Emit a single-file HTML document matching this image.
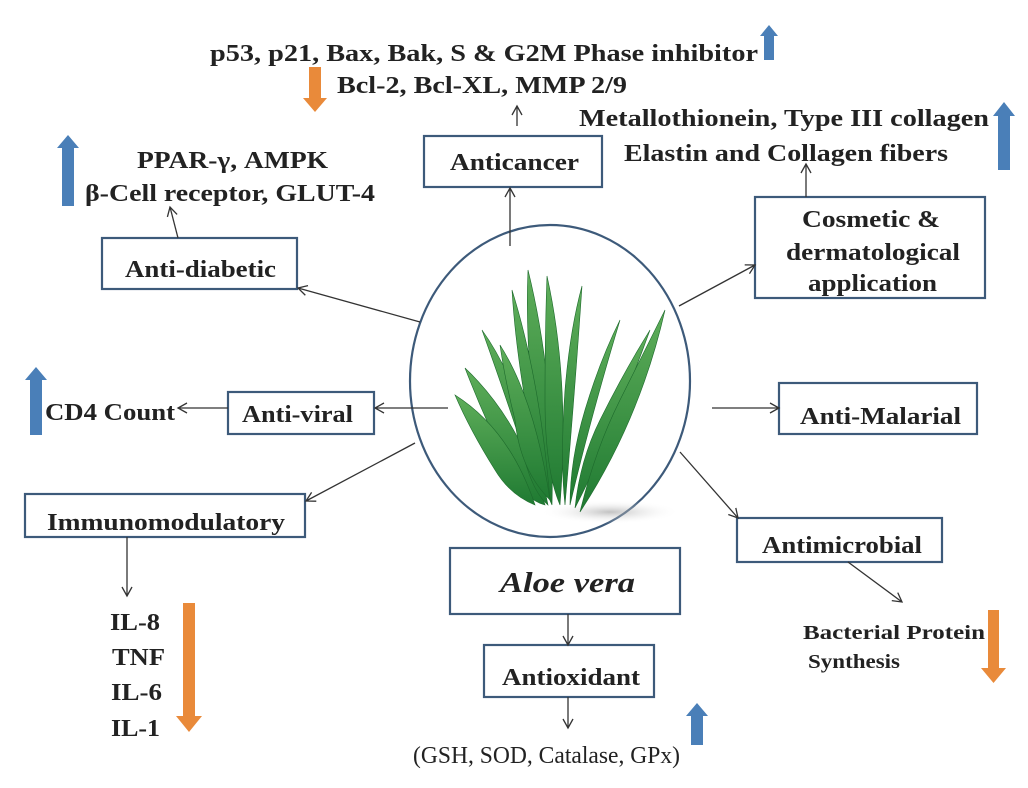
<!DOCTYPE html>
<html><head><meta charset="utf-8"><style>
html,body{margin:0;padding:0;background:#fff;}
svg text{font-family:"Liberation Serif",serif;fill:#222;}
.b{font-weight:bold;}
</style></head><body>
<svg width="1028" height="783" viewBox="0 0 1028 783" xmlns="http://www.w3.org/2000/svg">
<defs>
<marker id="ah" markerWidth="12" markerHeight="12" refX="10" refY="6" orient="auto" markerUnits="userSpaceOnUse">
<path d="M1,1 L10,6 L1,11" fill="none" stroke="#333" stroke-width="1.3"/></marker>
<linearGradient id="lg" x1="0" y1="0" x2="0" y2="1"><stop offset="0" stop-color="#5fae5a"/><stop offset="1" stop-color="#1f7a32"/></linearGradient>
<radialGradient id="sh" cx="0.5" cy="0.5" r="0.5"><stop offset="0" stop-color="#999" stop-opacity="0.6"/><stop offset="1" stop-color="#fff" stop-opacity="0"/></radialGradient>
</defs>
<g fill="none" stroke="#3d5a7a" stroke-width="2.2">
<ellipse cx="550" cy="381" rx="140" ry="156"/>
<rect x="424" y="136" width="178" height="51"/>
<rect x="102" y="238" width="195" height="51"/>
<rect x="755" y="197" width="230" height="101"/>
<rect x="228" y="392" width="146" height="42"/>
<rect x="779" y="383" width="198" height="51"/>
<rect x="25" y="494" width="280" height="43"/>
<rect x="737" y="518" width="205" height="44"/>
<rect x="450" y="548" width="230" height="66"/>
<rect x="484" y="645" width="170" height="52"/>
</g>
<g stroke="#333" stroke-width="1.3" fill="none" marker-end="url(#ah)">
<line x1="510" y1="246" x2="510" y2="188"/>
<line x1="517" y1="126" x2="517" y2="106"/>
<line x1="420" y1="322" x2="298" y2="288"/>
<line x1="178" y1="238" x2="170" y2="207"/>
<line x1="679" y1="306" x2="755" y2="265"/>
<line x1="806" y1="197" x2="806" y2="164"/>
<line x1="448" y1="408" x2="375" y2="408"/>
<line x1="228" y1="408" x2="178" y2="408"/>
<line x1="712" y1="408" x2="779" y2="408"/>
<line x1="415" y1="443" x2="306" y2="501"/>
<line x1="127" y1="537" x2="127" y2="596"/>
<line x1="680" y1="452" x2="738" y2="518"/>
<line x1="848" y1="562" x2="902" y2="602"/>
<line x1="568" y1="614" x2="568" y2="645"/>
<line x1="568" y1="697" x2="568" y2="728"/>
</g>
<ellipse cx="610" cy="512" rx="70" ry="12" fill="url(#sh)"/>
<g fill="url(#lg)" stroke="#1d6a2c" stroke-width="0.6">
<path d="M465,368 Q520,420 545,505 Q525,500 510,470 Q485,420 465,368Z"/>
<path d="M455,395 Q510,430 535,505 Q510,495 495,470 Q470,430 455,395Z"/>
<path d="M482,330 Q525,390 548,505 Q530,490 520,440 Q500,380 482,330Z"/>
<path d="M528,270 Q555,380 552,505 Q540,480 535,420 Q525,340 528,270Z"/>
<path d="M512,290 Q540,380 550,500 Q530,470 525,400 Q515,340 512,290Z"/>
<path d="M547,276 Q570,380 560,505 Q545,470 545,400 Q545,330 547,276Z"/>
<path d="M582,286 Q575,390 565,505 Q560,460 565,390 Q570,330 582,286Z"/>
<path d="M620,320 Q590,420 570,505 Q570,460 585,410 Q600,360 620,320Z"/>
<path d="M650,330 Q610,440 575,508 Q580,460 600,420 Q625,370 650,330Z"/>
<path d="M665,310 Q640,420 580,512 Q595,450 620,400 Q645,350 665,310Z"/>
<path d="M500,345 Q535,400 550,500 Q520,470 515,420 Q505,380 500,345Z"/>
</g>
<g fill="#4a7fb8">
<path d="M764,60 L764,36 L760,36 L769,25 L778,36 L774,36 L774,60Z"/>
<path d="M62,206 L62,148 L57,148 L68,135 L79,148 L74,148 L74,206Z"/>
<path d="M998,170 L998,116 L993,116 L1004,102 L1015,116 L1010,116 L1010,170Z"/>
<path d="M30,435 L30,380 L25,380 L36,367 L47,380 L42,380 L42,435Z"/>
<path d="M691,745 L691,716 L686,716 L697,703 L708,716 L703,716 L703,745Z"/>
</g>
<g fill="#e98a3a">
<path d="M309,67 L321,67 L321,98 L327,98 L315,112 L303,98 L309,98Z"/>
<path d="M183,603 L195,603 L195,716 L202,716 L189,732 L176,716 L183,716Z"/>
<path d="M988,610 L999,610 L999,668 L1006,668 L993.5,683 L981,668 L988,668Z"/>
</g>
<g class="b" font-size="24">
<text x="210" y="61" textLength="548" lengthAdjust="spacingAndGlyphs">p53, p21, Bax, Bak, S &amp; G2M Phase inhibitor</text>
<text x="337" y="93" textLength="290" lengthAdjust="spacingAndGlyphs">Bcl-2, Bcl-XL, MMP 2/9</text>
<text x="450" y="170" textLength="129" lengthAdjust="spacingAndGlyphs">Anticancer</text>
<text x="579" y="126" textLength="410" lengthAdjust="spacingAndGlyphs">Metallothionein, Type III collagen</text>
<text x="624" y="161" textLength="324" lengthAdjust="spacingAndGlyphs">Elastin and Collagen fibers</text>
<text x="137" y="168" textLength="191" lengthAdjust="spacingAndGlyphs">PPAR-γ, AMPK</text>
<text x="85" y="201" textLength="290" lengthAdjust="spacingAndGlyphs">β-Cell receptor, GLUT-4</text>
<text x="125" y="277" textLength="151" lengthAdjust="spacingAndGlyphs">Anti-diabetic</text>
<text x="802" y="227" textLength="138" lengthAdjust="spacingAndGlyphs">Cosmetic &amp;</text>
<text x="786" y="260" textLength="174" lengthAdjust="spacingAndGlyphs">dermatological</text>
<text x="808" y="291" textLength="129" lengthAdjust="spacingAndGlyphs">application</text>
<text x="45" y="420" textLength="130" lengthAdjust="spacingAndGlyphs">CD4 Count</text>
<text x="242" y="422" textLength="111" lengthAdjust="spacingAndGlyphs">Anti-viral</text>
<text x="800" y="424" textLength="161" lengthAdjust="spacingAndGlyphs">Anti-Malarial</text>
<text x="47" y="530" textLength="238" lengthAdjust="spacingAndGlyphs">Immunomodulatory</text>
<text x="762" y="553" textLength="160" lengthAdjust="spacingAndGlyphs">Antimicrobial</text>
<text x="502" y="685" textLength="138" lengthAdjust="spacingAndGlyphs">Antioxidant</text>
<text x="110" y="630" textLength="50" lengthAdjust="spacingAndGlyphs">IL-8</text>
<text x="112" y="665" textLength="53" lengthAdjust="spacingAndGlyphs">TNF</text>
<text x="111" y="700" textLength="51" lengthAdjust="spacingAndGlyphs">IL-6</text>
<text x="111" y="736" textLength="49" lengthAdjust="spacingAndGlyphs">IL-1</text>
</g>
<text class="b" x="500" y="592" font-size="28" font-style="italic" textLength="135" lengthAdjust="spacingAndGlyphs">Aloe vera</text>
<text class="b" x="803" y="639" font-size="20" textLength="182" lengthAdjust="spacingAndGlyphs">Bacterial Protein</text>
<text class="b" x="808" y="668" font-size="20" textLength="92" lengthAdjust="spacingAndGlyphs">Synthesis</text>
<text x="413" y="763" font-size="24" textLength="267" lengthAdjust="spacingAndGlyphs">(GSH, SOD, Catalase, GPx)</text>
</svg>
</body></html>
